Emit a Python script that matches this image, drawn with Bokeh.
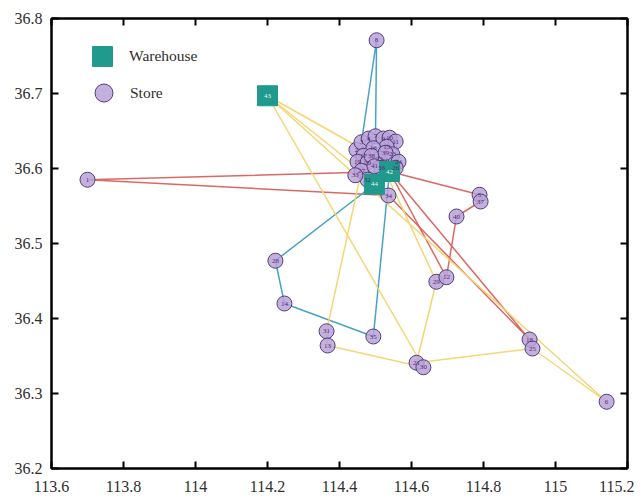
from bokeh.plotting import figure
from bokeh.models import (ColumnDataSource, FixedTicker, LinearAxis, Legend, LegendItem)
from bokeh.embed import file_html
from bokeh.resources import INLINE
from bokeh.core.properties import value

# ---------------- data ----------------
x_ticks = [113.6, 113.8, 114.0, 114.2, 114.4, 114.6, 114.8, 115.0, 115.2]
x_tick_labels = ["113.6", "113.8", "114", "114.2", "114.4", "114.6", "114.8", "115", "115.2"]
y_ticks = [36.2, 36.3, 36.4, 36.5, 36.6, 36.7, 36.8]
y_tick_labels = ["36.2", "36.3", "36.4", "36.5", "36.6", "36.7", "36.8"]

warehouse_ids = [43, 42, 44]
warehouse_x = [114.200, 114.539, 114.497]
warehouse_y = [36.697, 36.596, 36.579]

store_ids = [1, 8, 28, 14, 35, 31, 13, 21, 30, 29, 12, 40, 5, 37, 18, 25, 6, 34,
             2, 3, 4, 7, 9, 10, 11, 15, 16, 17, 19, 20, 22, 23, 24, 26, 27, 32, 33, 36, 38, 39, 41]
store_x = [113.700, 114.503, 114.222, 114.247, 114.494, 114.364, 114.367, 114.614, 114.633,
           114.669, 114.697, 114.725, 114.789, 114.792, 114.928, 114.936, 115.142, 114.536,
           114.447, 114.461, 114.481, 114.500, 114.522, 114.539, 114.556, 114.531, 114.494,
           114.467, 114.450, 114.478, 114.511, 114.547, 114.564, 114.556, 114.461, 114.478,
           114.444, 114.517, 114.489, 114.528, 114.497]
store_y = [36.585, 36.771, 36.477, 36.420, 36.376, 36.383, 36.364, 36.341, 36.335,
           36.449, 36.455, 36.536, 36.565, 36.556, 36.372, 36.360, 36.289, 36.564,
           36.625, 36.635, 36.640, 36.643, 36.640, 36.641, 36.636, 36.629, 36.627,
           36.617, 36.609, 36.608, 36.613, 36.619, 36.609, 36.601, 36.597, 36.585,
           36.591, 36.601, 36.617, 36.621, 36.603]

route_nodes = [
    [42, 5, 37, 40, 12, 42],
    [42, 1, 34, 18, 42],
    [44, 19, 17, 2, 33, 27, 32, 44],
    [44, 28, 14, 35, 42],
    [42, 23, 10, 9, 7, 8, 3, 4, 16, 15, 22, 44],
    [42, 24, 11, 39, 36, 41, 44],
    [43, 30, 13, 31, 27, 43],
    [43, 22, 29, 21, 25, 6, 43],
]
route_colors = ["#d9605c", "#d9605c", "#d9605c", "#3d9dc2", "#3d9dc2", "#3d9dc2", "#f2d46e", "#f2d46e"]

# ---------------- figure ----------------
p = figure(x_range=(113.6, 115.2), y_range=(36.2, 36.8),
           frame_width=576, frame_height=450,
           min_border_left=51, min_border_top=18, min_border_right=7, min_border_bottom=28,
           output_backend="svg", toolbar_location=None, background_fill_color="white")
p.grid.visible = False
p.outline_line_color = "black"
p.outline_line_width = 2

lookup = {}
for i, n in enumerate(warehouse_ids):
    lookup[n] = (warehouse_x[i], warehouse_y[i])
for i, n in enumerate(store_ids):
    lookup[n] = (store_x[i], store_y[i])

xs = [[lookup[n][0] for n in r] for r in route_nodes]
ys = [[lookup[n][1] for n in r] for r in route_nodes]
p.multi_line(xs="xs", ys="ys", line_color="c", line_width=1.5, line_alpha=0.95,
             source=ColumnDataSource(dict(xs=xs, ys=ys, c=route_colors)))

ssrc = ColumnDataSource(dict(x=store_x, y=store_y, t=[str(v) for v in store_ids]))
wsrc = ColumnDataSource(dict(x=warehouse_x, y=warehouse_y, t=[str(v) for v in warehouse_ids]))

r_store = p.scatter("x", "y", source=ssrc, marker="circle", size=15,
                    fill_color="#b9a2d9", fill_alpha=0.85, line_color="#4f3f78", line_width=1)
r_wh = p.scatter("x", "y", source=wsrc, marker="square", size=20,
                 fill_color="#1f9a8c", line_color="#1f9a8c")

p.text("x", "y", text="t", source=ssrc, text_font=value("Liberation Serif"),
       text_font_size="7px", text_color="#5b2d6e", text_align="center", text_baseline="middle")
p.text("x", "y", text="t", source=wsrc, text_font=value("Liberation Serif"),
       text_font_size="7px", text_color="#e6f4ee", text_align="center", text_baseline="middle")

# axes
def style_axis(ax, ticks, labels, show):
    ax.ticker = FixedTicker(ticks=ticks)
    ax.major_label_overrides = dict(zip(ticks, labels if show else [" "] * len(ticks)))
    ax.axis_line_width = 2
    ax.axis_line_color = "black"
    ax.major_tick_line_width = 2
    ax.major_tick_line_color = "black"
    ax.major_tick_in = 7
    ax.major_tick_out = 0
    ax.minor_tick_line_color = None
    ax.major_label_text_font = "Liberation Serif"
    ax.major_label_text_font_size = "16px" if show else "1px"
    ax.major_label_text_color = "#2e2e2e"

style_axis(p.xaxis[0], x_ticks, x_tick_labels, True)
style_axis(p.yaxis[0], y_ticks, y_tick_labels, True)
p.xaxis[0].major_label_standoff = 12
p.yaxis[0].major_label_standoff = 9

top = LinearAxis()
style_axis(top, x_ticks, x_tick_labels, False)
top.major_label_standoff = 0
p.add_layout(top, "above")
right = LinearAxis()
style_axis(right, y_ticks, y_tick_labels, False)
right.major_label_standoff = 0
p.add_layout(right, "right")

legend_style = dict(padding=0, margin=0, border_line_color=None, background_fill_alpha=0,
                    label_text_font="Liberation Serif", label_text_font_size="15.5px",
                    label_text_color="#2e2e2e")
legend_wh = Legend(items=[LegendItem(label="Warehouse", renderers=[r_wh])],
                   location=(26, 387), glyph_width=50, glyph_height=50,
                   label_standoff=2, **legend_style)
legend_st = Legend(items=[LegendItem(label="Store", renderers=[r_store])],
                   location=(30, 353), glyph_width=45, glyph_height=45,
                   label_standoff=4, **legend_style)
p.add_layout(legend_wh, "center")
p.add_layout(legend_st, "center")

open("out.html", "w").write(file_html(p, INLINE))
